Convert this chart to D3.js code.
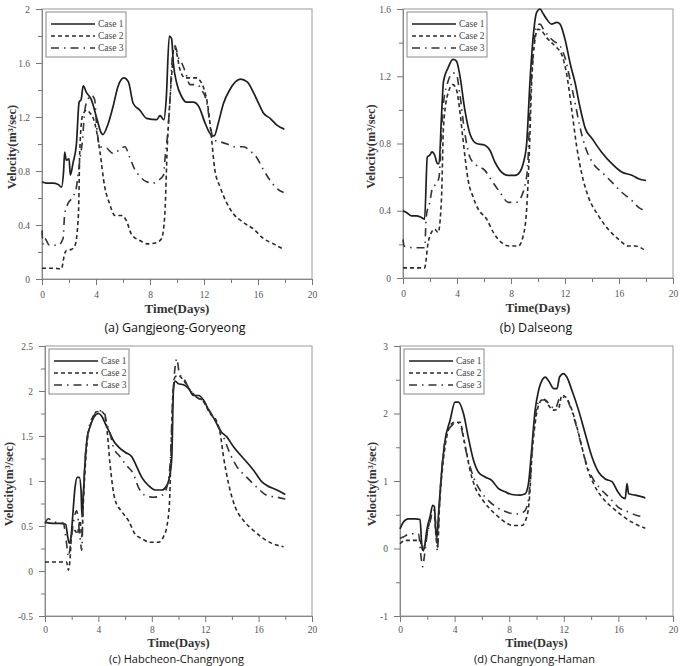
<!DOCTYPE html>
<html>
<head>
<meta charset="utf-8">
<script src="https://d3js.org/d3.v7.min.js"></script>
<style>
  body { margin: 0; background: #fff; }
  svg text { font-family: "Liberation Serif", "DejaVu Serif", serif; }
</style>
</head>
<body>
<div class="chart"></div>
<script>
// ---- data: [day, velocity] ----
const caseNames = ["Case 1", "Case 2", "Case 3"];
const dayTicks = [0, 4, 8, 12, 16, 20];

// (a) Gangjeong-Goryeong
const aCase1 = [[0,0.72],[0.3,0.71],[0.8,0.71],[1.2,0.70],[1.44,0.68],[1.6,0.80],[1.68,0.94],[1.8,0.88],[2.0,0.89],[2.1,0.77],[2.3,0.86],[2.55,1.0],[2.75,1.31],[2.9,1.33],[3.05,1.43],[3.3,1.38],[3.65,1.33],[4.03,1.2],[4.4,1.08],[4.5,1.07],[4.9,1.15],[5.27,1.28],[5.64,1.43],[6.06,1.49],[6.4,1.46],[6.76,1.30],[7.25,1.25],[7.75,1.19],[8.5,1.18],[8.74,1.21],[9.03,1.18],[9.2,1.33],[9.43,1.8],[9.6,1.78],[9.73,1.6],[9.98,1.45],[10.35,1.35],[10.7,1.31],[11.2,1.31],[11.6,1.28],[12.1,1.15],[12.5,1.07],[12.75,1.06],[13.07,1.16],[13.44,1.30],[13.9,1.40],[14.7,1.48],[15.2,1.46],[15.67,1.38],[16.0,1.31],[16.4,1.23],[16.9,1.19],[17.4,1.14],[17.95,1.11]];
const aCase2 = [[0,0.08],[0.8,0.08],[1.44,0.075],[1.68,0.19],[1.8,0.21],[2.2,0.22],[2.45,0.25],[2.7,0.48],[2.8,0.95],[3.0,1.21],[3.3,1.25],[3.55,1.23],[3.8,1.19],[4.03,1.10],[4.28,0.95],[4.65,0.68],[5.0,0.56],[5.4,0.47],[5.9,0.47],[6.26,0.43],[6.63,0.33],[7.25,0.285],[7.87,0.26],[8.5,0.27],[8.86,0.30],[9.1,0.48],[9.28,0.98],[9.43,1.25],[9.6,1.5],[9.78,1.72],[9.98,1.67],[10.2,1.56],[10.6,1.49],[10.97,1.49],[11.46,1.49],[11.7,1.47],[11.96,1.42],[12.33,1.25],[12.57,1.03],[12.8,0.81],[13.2,0.68],[13.7,0.56],[14.2,0.48],[14.9,0.42],[15.67,0.37],[16.4,0.30],[17.15,0.26],[17.9,0.22]];
const aCase3 = [[0,0.36],[0.08,0.26],[0.2,0.30],[0.55,0.25],[1.2,0.25],[1.56,0.30],[1.68,0.48],[1.93,0.56],[2.3,0.61],[2.55,0.68],[2.8,0.88],[3.0,1.03],[3.17,1.25],[3.4,1.33],[3.66,1.36],[3.9,1.33],[4.05,1.13],[4.3,0.98],[4.78,0.97],[5.27,0.93],[5.64,0.95],[6.14,0.98],[6.5,0.9],[6.88,0.81],[7.25,0.76],[7.75,0.72],[8.24,0.71],[8.6,0.73],[9.0,0.77],[9.1,0.88],[9.35,1.13],[9.48,1.33],[9.6,1.57],[9.73,1.71],[9.85,1.73],[10.1,1.64],[10.35,1.6],[10.6,1.54],[10.97,1.44],[11.46,1.44],[11.83,1.40],[12.2,1.31],[12.45,1.15],[12.7,1.03],[13.07,1.02],[13.7,1.0],[14.2,0.98],[14.94,0.98],[15.4,0.95],[15.9,0.9],[16.4,0.81],[16.9,0.73],[17.4,0.67],[17.9,0.64]];

// (b) Dalseong
const bCase1 = [[0,0.40],[0.25,0.39],[0.62,0.37],[1.0,0.37],[1.36,0.36],[1.6,0.35],[1.8,0.72],[1.98,0.73],[2.15,0.75],[2.35,0.73],[2.55,0.68],[2.67,0.68],[2.85,0.96],[3.0,1.17],[3.34,1.25],[3.7,1.30],[3.96,1.29],[4.2,1.21],[4.58,1.0],[4.95,0.86],[5.45,0.80],[6.06,0.79],[6.44,0.76],[6.8,0.69],[7.18,0.64],[7.8,0.61],[8.3,0.61],[8.66,0.63],[8.9,0.68],[9.16,0.80],[9.4,1.16],[9.65,1.44],[9.9,1.58],[10.15,1.60],[10.4,1.57],[10.64,1.54],[11.0,1.51],[11.4,1.52],[11.63,1.51],[12.0,1.42],[12.4,1.27],[12.75,1.16],[13.1,1.02],[13.5,0.89],[14.0,0.83],[14.7,0.75],[15.47,0.68],[16.2,0.63],[17.0,0.61],[17.45,0.59],[18.0,0.58]];
const bCase2 = [[0,0.06],[0.8,0.06],[1.6,0.06],[1.86,0.21],[2.1,0.27],[2.35,0.29],[2.6,0.27],[2.85,0.47],[3.0,0.90],[3.34,1.10],[3.7,1.15],[3.96,1.12],[4.2,1.0],[4.45,0.82],[4.83,0.58],[5.2,0.48],[5.57,0.41],[6.2,0.35],[6.7,0.27],[7.3,0.21],[7.9,0.19],[8.54,0.19],[8.9,0.25],[9.16,0.41],[9.36,0.76],[9.53,1.16],[9.78,1.42],[10.0,1.48],[10.27,1.47],[10.64,1.43],[11.0,1.40],[11.4,1.37],[11.75,1.33],[12.13,1.21],[12.5,1.0],[12.87,0.78],[13.24,0.62],[13.7,0.49],[14.48,0.37],[15.2,0.29],[15.97,0.23],[16.7,0.19],[17.2,0.19],[18.0,0.16]];
const bCase3 = [[0,0.23],[0.08,0.19],[0.8,0.18],[1.6,0.18],[1.73,0.37],[1.98,0.45],[2.2,0.54],[2.47,0.56],[2.67,0.60],[2.85,0.86],[3.0,1.04],[3.34,1.17],[3.7,1.22],[3.96,1.21],[4.2,1.10],[4.58,0.86],[4.95,0.72],[5.45,0.67],[6.06,0.64],[6.56,0.58],[7.18,0.51],[7.8,0.45],[8.4,0.45],[8.8,0.49],[9.03,0.55],[9.23,0.66],[9.43,1.06],[9.65,1.34],[9.9,1.50],[10.15,1.51],[10.4,1.48],[10.77,1.44],[11.14,1.41],[11.63,1.38],[12.0,1.31],[12.4,1.17],[12.75,1.04],[13.1,0.90],[13.5,0.78],[14.1,0.68],[14.85,0.62],[15.47,0.57],[16.2,0.51],[16.96,0.46],[17.45,0.42],[18.0,0.40]];

// (c) Habcheon-Changnyong
const cCase1 = [[0,0.54],[0.6,0.53],[1.1,0.53],[1.55,0.52],[1.7,0.38],[1.82,0.31],[1.95,0.38],[2.07,0.6],[2.25,0.93],[2.42,1.04],[2.57,1.04],[2.7,0.9],[2.77,0.6],[2.85,0.79],[3.0,1.21],[3.17,1.49],[3.37,1.6],[3.67,1.71],[4.0,1.75],[4.25,1.72],[4.57,1.62],[4.87,1.53],[5.12,1.45],[5.5,1.38],[6.0,1.32],[6.5,1.27],[6.87,1.16],[7.25,1.04],[7.75,0.95],[8.25,0.90],[8.75,0.90],[9.12,0.95],[9.37,1.08],[9.5,1.27],[9.62,2.01],[9.75,2.11],[10.0,2.08],[10.37,2.07],[10.75,2.03],[11.12,1.95],[11.5,1.95],[11.87,1.90],[12.25,1.79],[12.75,1.67],[13.12,1.56],[13.62,1.49],[14.12,1.38],[14.87,1.25],[15.62,1.12],[16.25,0.99],[16.62,0.95],[17.37,0.90],[18.0,0.85]];
const cCase2 = [[0,0.1],[0.8,0.1],[1.62,0.1],[1.75,0.01],[1.87,0.12],[2.0,0.41],[2.25,0.45],[2.42,0.41],[2.62,0.56],[2.75,0.38],[2.87,0.75],[3.0,1.12],[3.17,1.45],[3.5,1.67],[3.87,1.77],[4.25,1.77],[4.5,1.71],[4.67,1.53],[4.87,1.19],[5.25,0.79],[5.75,0.66],[6.25,0.56],[6.75,0.41],[7.25,0.36],[7.87,0.32],[8.5,0.32],[8.87,0.38],[9.12,0.49],[9.32,0.75],[9.42,1.19],[9.57,1.93],[9.75,2.16],[10.0,2.17],[10.37,2.12],[10.87,2.01],[11.37,1.93],[11.87,1.88],[12.37,1.75],[12.87,1.66],[13.12,1.53],[13.37,1.27],[13.75,0.97],[14.25,0.71],[14.87,0.56],[15.62,0.45],[16.37,0.36],[17.12,0.30],[17.87,0.27]];
const cCase3 = [[0,0.53],[0.25,0.58],[0.62,0.55],[1.37,0.53],[1.62,0.30],[1.75,0.16],[1.92,0.30],[2.12,0.53],[2.37,0.67],[2.62,0.38],[2.75,0.23],[2.87,0.82],[3.02,1.27],[3.25,1.56],[3.62,1.72],[4.12,1.78],[4.42,1.77],[4.62,1.64],[4.82,1.56],[5.12,1.38],[5.62,1.27],[6.12,1.17],[6.62,1.08],[7.0,0.93],[7.5,0.84],[8.12,0.82],[8.75,0.84],[9.12,0.93],[9.37,1.19],[9.57,1.93],[9.75,2.27],[9.87,2.36],[10.07,2.19],[10.37,2.14],[10.87,2.01],[11.37,1.93],[11.87,1.89],[12.37,1.77],[12.87,1.64],[13.37,1.49],[13.87,1.30],[14.37,1.16],[15.12,1.04],[15.87,0.93],[16.62,0.84],[17.37,0.82],[18.0,0.80]];

// (d) Changnyong-Haman
const dCase1 = [[0,0.29],[0.24,0.39],[0.61,0.44],[1.1,0.44],[1.47,0.43],[1.59,0.07],[1.71,-0.03],[1.83,0.07],[1.96,0.27],[2.2,0.47],[2.4,0.64],[2.52,0.62],[2.62,0.27],[2.71,0.17],[2.81,0.47],[3.06,1.16],[3.3,1.60],[3.67,1.90],[4.03,2.17],[4.28,2.17],[4.65,2.0],[5.0,1.65],[5.38,1.31],[5.75,1.13],[6.23,1.06],[6.72,1.01],[7.2,0.89],[7.7,0.84],[8.19,0.80],[8.8,0.79],[9.17,0.81],[9.41,0.96],[9.66,1.50],[9.9,2.05],[10.15,2.34],[10.4,2.49],[10.64,2.54],[10.93,2.47],[11.25,2.37],[11.5,2.37],[11.69,2.54],[11.98,2.59],[12.22,2.54],[12.6,2.34],[13.08,2.05],[13.57,1.70],[14.06,1.36],[14.55,1.13],[15.04,1.03],[15.53,0.99],[15.9,0.86],[16.26,0.76],[16.5,0.74],[16.63,0.96],[16.75,0.81],[17.24,0.79],[17.97,0.75]];
const dCase2 = [[0,0.07],[0.37,0.12],[0.9,0.12],[1.47,0.12],[1.59,0.02],[1.71,-0.03],[1.83,0.07],[2.08,0.32],[2.32,0.47],[2.52,0.47],[2.64,0.17],[2.76,0.02],[2.88,0.57],[3.1,1.16],[3.42,1.65],[3.79,1.85],[4.03,1.87],[4.4,1.87],[4.65,1.65],[4.89,1.40],[5.13,1.16],[5.5,0.91],[5.99,0.74],[6.48,0.61],[7.09,0.49],[7.7,0.39],[8.31,0.34],[8.92,0.34],[9.29,0.47],[9.49,0.76],[9.66,1.36],[9.9,1.85],[10.15,2.12],[10.51,2.22],[10.88,2.12],[11.25,2.05],[11.61,2.07],[11.86,2.27],[12.15,2.24],[12.6,2.05],[12.96,1.80],[13.33,1.50],[13.69,1.21],[14.18,0.96],[14.79,0.76],[15.53,0.61],[16.26,0.49],[16.99,0.39],[17.97,0.30]];
const dCase3 = [[0,0.15],[0.24,0.17],[0.61,0.21],[1.35,0.22],[1.54,-0.12],[1.66,-0.27],[1.78,-0.12],[1.96,0.17],[2.2,0.39],[2.44,0.57],[2.62,0.37],[2.74,-0.03],[2.88,0.62],[3.1,1.26],[3.42,1.70],[3.79,1.82],[4.16,1.87],[4.47,1.80],[4.72,1.55],[5.0,1.31],[5.38,1.06],[5.87,0.86],[6.48,0.71],[7.09,0.61],[7.82,0.54],[8.44,0.51],[9.05,0.54],[9.36,0.66],[9.54,1.01],[9.73,1.60],[9.98,2.05],[10.27,2.20],[10.64,2.20],[11.0,2.12],[11.37,2.07],[11.74,2.24],[12.1,2.24],[12.47,2.10],[12.84,1.87],[13.2,1.60],[13.57,1.31],[14.06,1.06],[14.67,0.89],[15.4,0.74],[16.0,0.61],[16.75,0.54],[17.36,0.49],[17.97,0.47]];

const aYTicks = [0, 0.4, 0.8, 1.2, 1.6, 2];
const bYTicks = [0, 0.4, 0.8, 1.2, 1.6];
const cYTicks = [-0.5, 0, 0.5, 1, 1.5, 2, 2.5];
const dYTicks = [-1, 0, 1, 2, 3];

const captions = ["(a) Gangjeong-Goryeong", "(b) Dalseong", "(c) Habcheon-Changnyong", "(d) Changnyong-Haman"];

// ---- layout ----
const W = 691, H = 666;
const panels = [
  {x0: 42, x1: 312, y0: 9, y1: 279, ticks: aYTicks, series: [aCase1, aCase2, aCase3], cap: captions[0], labelX: 12, pad: 6, titleDy: 34, titleSize: 13, capY: 332, capSize: 12.5},
  {x0: 403, x1: 673, y0: 9, y1: 278, ticks: bYTicks, series: [bCase1, bCase2, bCase3], cap: captions[1], labelX: 371, pad: 6, titleDy: 34, titleSize: 13, capY: 332, capSize: 12.5},
  {x0: 45, x1: 312, y0: 346, y1: 616, ticks: cYTicks, series: [cCase1, cCase2, cCase3], cap: captions[2], labelX: 9, pad: 4, titleDy: 31, titleSize: 12.5, capY: 662.5, capSize: 11},
  {x0: 400, x1: 673, y0: 346, y1: 616, ticks: dYTicks, series: [dCase1, dCase2, dCase3], cap: captions[3], labelX: 372, pad: 4, titleDy: 31, titleSize: 12.5, capY: 662.5, capSize: 11}
];

const styles = [
  {dash: null, width: 1.7, color: "#1e1e1e"},
  {dash: "4,3", width: 1.6, color: "#2a2a2a"},
  {dash: "8,5,1.5,5", width: 1.6, color: "#333"}
];

const svg = d3.select('.chart').append('svg')
  .attr('width', W).attr('height', H);

const fmt = d => String(+(+d).toFixed(2));

panels.forEach(p => {
  const g = svg.append('g');
  const x = d3.scaleLinear().domain([0, 20]).range([p.x0, p.x1]);
  const y = d3.scaleLinear().domain(d3.extent(p.ticks)).range([p.y1, p.y0]);
  const step = p.ticks[1] - p.ticks[0];

  // frame
  g.append('rect')
    .attr('x', p.x0).attr('y', p.y0)
    .attr('width', p.x1 - p.x0).attr('height', p.y1 - p.y0)
    .attr('fill', 'none').attr('stroke', '#9a9a9a').attr('stroke-width', 1);

  // minor ticks
  const xMinor = d3.range(2, 20, 4);
  const yMinor = p.ticks.slice(0, -1).map(t => t + step / 2);

  g.append('g')
    .attr('transform', `translate(0,${p.y1})`)
    .call(d3.axisBottom(x).tickValues(dayTicks).tickSize(6).tickPadding(p.pad).tickFormat(fmt));
  g.append('g')
    .attr('transform', `translate(0,${p.y1})`)
    .call(d3.axisBottom(x).tickValues(xMinor).tickSize(4).tickFormat(''))
    .call(a => a.select('.domain').remove());

  g.append('g')
    .attr('transform', `translate(${p.x0},0)`)
    .call(d3.axisLeft(y).tickValues(p.ticks).tickSize(6).tickPadding(6).tickFormat(fmt));
  g.append('g')
    .attr('transform', `translate(${p.x0},0)`)
    .call(d3.axisLeft(y).tickValues(yMinor).tickSize(4).tickFormat(''))
    .call(a => a.select('.domain').remove());

  g.selectAll('.domain').attr('stroke', '#888');
  g.selectAll('.tick line').attr('stroke', '#777');
  g.selectAll('.tick text')
    .style('font-family', '"Liberation Serif", serif')
    .style('font-size', '9.5px')
    .attr('fill', '#555');

  // lines
  const line = d3.line()
    .x(d => x(d[0]))
    .y(d => y(d[1]))
    .curve(d3.curveMonotoneX);

  p.series.forEach((s, i) => {
    g.append('path')
      .datum(s)
      .attr('fill', 'none')
      .attr('stroke', styles[i].color)
      .attr('stroke-width', styles[i].width)
      .attr('stroke-dasharray', styles[i].dash)
      .attr('stroke-linejoin', 'round')
      .attr('d', line);
  });

  // legend
  const lg = g.append('g').attr('transform', `translate(${p.x0 + 4},${p.y0 + 3})`);
  lg.append('rect').attr('width', 80).attr('height', 45)
    .attr('fill', '#fff').attr('stroke', '#888').attr('stroke-width', 1);
  caseNames.forEach((name, i) => {
    const yy = 12 + i * 12;
    lg.append('line')
      .attr('x1', 5).attr('x2', 49).attr('y1', yy).attr('y2', yy)
      .attr('stroke', styles[i].color)
      .attr('stroke-width', styles[i].width)
      .attr('stroke-dasharray', styles[i].dash);
    lg.append('text')
      .attr('x', 52).attr('y', yy + 3)
      .style('font-size', '9.5px')
      .attr('fill', '#444')
      .text(name);
  });

  // axis titles
  g.append('text')
    .attr('x', (p.x0 + p.x1) / 2).attr('y', p.y1 + p.titleDy)
    .attr('text-anchor', 'middle')
    .style('font-size', p.titleSize + 'px').style('font-weight', 'bold')
    .attr('fill', '#333')
    .text('Time(Days)');

  const cy = (p.y0 + p.y1) / 2 + 3;
  g.append('text')
    .attr('transform', `translate(${p.labelX + 4},${cy}) rotate(-90)`)
    .attr('text-anchor', 'middle')
    .style('font-size', '12.5px').style('font-weight', 'bold')
    .attr('fill', '#333')
    .text('Velocity(m³/sec)');

  // caption
  svg.append('text')
    .attr('x', (p.x0 + p.x1) / 2 - 2).attr('y', p.capY)
    .attr('text-anchor', 'middle')
    .style('font-family', '"Open Sans", sans-serif')
    .style('font-size', p.capSize + 'px')
    .attr('fill', '#111')
    .text(p.cap);
});
</script>
</body>
</html>
